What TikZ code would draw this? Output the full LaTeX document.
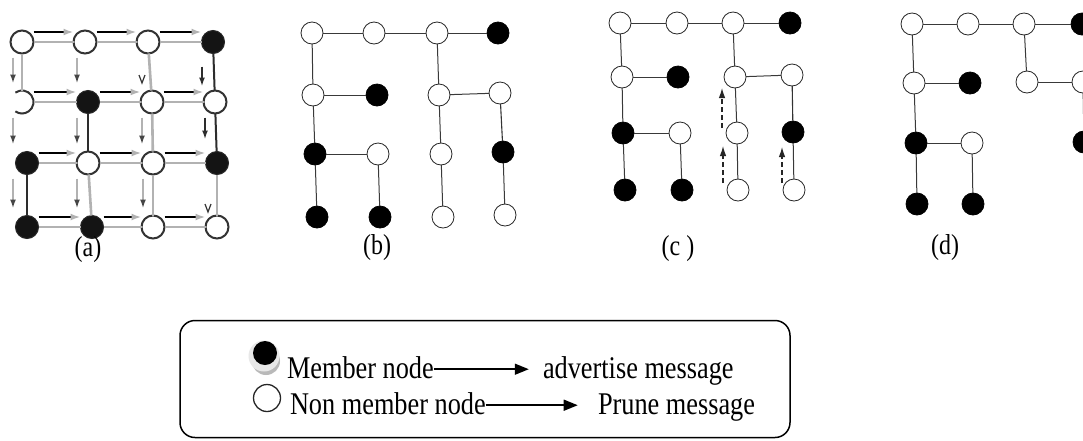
\documentclass[tikz,border=0pt]{standalone}
\usepackage{fontspec}
\setmainfont{Liberation Serif}
\usetikzlibrary{arrows.meta,calc}
\newcommand\lgfont{\fontsize{26.3}{30}\selectfont}
\newcommand\pnfont{\fontsize{24}{28}\selectfont}
\newcommand\tall[1]{\scalebox{1}[1.2]{#1}}
\begin{document}
\begin{tikzpicture}[x=1pt,y=-1pt,
  every node/.style={inner sep=0pt, outer sep=0pt},
  % panel (a): mesh with advertise messages
  memA/.style={circle, minimum size=23pt, fill=black!92, draw=black!85, line width=1pt},
  nonA/.style={circle, minimum size=23pt, fill=white, draw=gray!40!black, line width=2pt},
  openA/.style={circle, minimum size=23pt, fill=white},
  meshedge/.style={gray!60, line width=2.6pt},
  meshdark/.style={gray!35!black, line width=2pt},
  msgright/.style={black, line width=2.6pt, -{Latex[length=10pt,width=7pt,color=gray!60]}},
  msgdown/.style={gray!60, line width=1.8pt, -{Latex[length=9pt,width=6pt,color=gray!55!black]}},
  msgdowndark/.style={gray!35!black, line width=2pt, -{Latex[length=9pt,width=6pt]}},
  vtip/.style={gray!40!black, line width=1.2pt},
  % panels (b)-(d): trees
  memB/.style={circle, minimum size=22pt, fill=black, draw=black, line width=0.8pt},
  nonB/.style={circle, minimum size=22pt, fill=white, draw=black!85, line width=0.8pt},
  treeedge/.style={gray!45!black, line width=1pt},
  treedark/.style={black!80, line width=1.1pt},
  prune/.style={black!85, line width=1.2pt, dash pattern=on 5pt off 3pt, -{Latex[length=10pt,width=6.5pt]}},
  % legend
  legarrow/.style={black, line width=1.5pt, -{Triangle[length=14pt,width=11pt]}},
  paneltag/.style={font=\pnfont, anchor=base},
  legtext/.style={font=\lgfont, anchor=base west}
]
\useasboundingbox (0,0) rectangle (1083,440);
\clip (0,0) rectangle (1083,440);
\fill[white] (0,0) rectangle (1083,440);

% ---------- (a) ----------
\foreach \n/\x/\y/\s in {00/22/42/nonA, 01/85/42/nonA, 02/148/42/nonA, 03/213/42/memA,
  10/22/102/openA, 11/88/102/memA, 12/152/102/nonA, 13/215/102/nonA,
  20/27/163/memA, 21/88/163/nonA, 22/153/163/nonA, 23/217/163/memA,
  30/27/227/memA, 31/92/227/memA, 32/153/227/nonA, 33/217/227/nonA}
  \node[\s] (a\n) at (\x,\y) {};
\draw[gray!40!black, line width=2pt] ($(a10)+(-125:11.5)$) arc[start angle=-125, end angle=125, radius=11.5];
\foreach \p/\q in {00/01,01/02,02/03,10/11,11/12,12/13,20/21,21/22,22/23,30/31,31/32,32/33,
  00/10,02/12,12/22,21/31,22/32,23/33}
  \draw[meshedge] (a\p) -- (a\q);
\foreach \p/\q in {03/13,13/23,20/30,11/21}
  \draw[meshdark] (a\p) -- (a\q);
\foreach \p/\q in {00/01,01/02,02/03,10/11,11/12,12/13,20/21,21/22,22/23,30/31,31/32,32/33}
  \draw[msgright] ([yshift=10pt]a\p.east) -- ([yshift=10pt]a\q.west);
% downward advertise messages, each kept vertical
\foreach \p/\q/\dx in {00/10/-9,01/11/-8,10/20/-9,11/21/-11,12/22/-10,20/30/-14,21/31/-11,22/32/-10}
  \draw[msgdown, shorten <=4pt, shorten >=7pt] ([xshift=\dx pt]a\p.south) -- ([xshift=\dx pt]a\p.south |- a\q.north);
\draw[msgdowndark, shorten <=13pt, shorten >=4pt] ([xshift=-11pt]a03.south) -- ([xshift=-11pt]a03.south |- a13.north);
\draw[msgdowndark, shorten <=4pt, shorten >=12pt] ([xshift=-10pt]a13.south) -- ([xshift=-10pt]a13.south |- a23.north);
\coordinate (v1) at ([xshift=-10pt,yshift=7.5pt]a12.north);
\coordinate (v2) at ([xshift=-9pt,yshift=3.5pt]a33.north);
\draw[vtip] ($(v1)+(-3,-8)$) -- (v1) -- ($(v1)+(3,-8)$);
\draw[vtip] ($(v2)+(-3,-8)$) -- (v2) -- ($(v2)+(3,-8)$);
\node[paneltag] (la) at (88,256) {\tall{(a)}};

% ---------- (b) ----------
\foreach \n/\x/\y/\s in {00/312/33/nonB, 01/374/33/nonB, 02/437/33/nonB, 03/498/33/memB,
  10/313/95/nonB, 11/377/95/memB, 12/439/95/nonB, 13/500/93/nonB,
  20/315/154/memB, 21/378/154/nonB, 22/441/154/nonB, 23/503/152/memB,
  30/317/217/memB, 31/380/217/memB, 32/443/217/nonB, 33/505/215/nonB}
  \node[\s] (b\n) at (\x,\y) {};
\foreach \p/\q in {00/01,01/02,02/03,00/10,02/12,10/11,12/13,10/20,12/22,20/21,20/30,21/31,22/32,23/33}
  \draw[treeedge] (b\p) -- (b\q);
\draw[treedark] (b13) -- (b23);
\node[paneltag] (lb) at (377,254) {\tall{(b)}};

% ---------- (c) ----------
\foreach \n/\x/\y/\s in {00/620/23/nonB, 01/677/23/nonB, 02/733/23/nonB, 03/790/23/memB,
  10/622/77/nonB, 11/678/77/memB, 12/735/77/nonB, 13/792/75/nonB,
  20/623/133/memB, 21/680/133/nonB, 22/737/133/nonB, 23/793/132/memB,
  30/625/190/memB, 31/682/190/memB, 32/738/190/nonB, 33/794/190/nonB}
  \node[\s] (c\n) at (\x,\y) {};
\foreach \p/\q in {00/01,01/02,02/03,00/10,02/12,10/11,12/13,10/20,12/22,20/21,20/30,21/31,22/32,23/33}
  \draw[treeedge] (c\p) -- (c\q);
\draw[treedark] (c13) -- (c23);
\draw[prune] ([xshift=-15pt,yshift=5pt]c22.center) -- ([xshift=-13pt,yshift=-11pt]c12.center);
\draw[prune] ([xshift=-15pt,yshift=7pt]c32.center) -- ([xshift=-14pt,yshift=-13pt]c22.center);
\draw[prune] ([xshift=-12pt,yshift=7pt]c33.center) -- ([xshift=-11pt,yshift=-15pt]c23.center);
\node[paneltag] (lc) at (678,255) {\tall{(c )}};

% ---------- (d) ----------
\foreach \n/\x/\y/\s in {00/912/24/nonB, 01/968/24/nonB, 02/1024/24/nonB, 03/1082/24/memB,
  10/914/83/nonB, 11/970/83/memB, 12/1027/82/nonB, 13/1083/82/nonB,
  20/916/143/memB, 21/972/143/nonB, 23/1084/142/memB,
  30/917/204/memB, 31/973/204/memB}
  \node[\s] (d\n) at (\x,\y) {};
\foreach \p/\q in {00/01,01/02,02/03,00/10,02/12,10/11,12/13,10/20,20/21,20/30,21/31}
  \draw[treeedge] (d\p) -- (d\q);
\draw[treedark] (d13) -- (d23);
\node[paneltag] (ld) at (945,254) {\tall{(d)}};

% ---------- legend ----------
\node[draw, line width=1.5pt, rounded corners=15pt, minimum width=610pt, minimum height=117pt] (legend) at (485,379) {};
\fill[gray!55] (266,361) circle[radius=14];
\fill[gray!18] (264,356) circle[radius=15.5];
\node[circle, fill=black, minimum size=24pt] (legmem) at (265,353) {};
\node[circle, draw=black!85, line width=1.3pt, minimum size=27pt] (legnon) at (267,398) {};
\node[legtext] (t1) at (287,378) {\tall{Member node}};
\node[legtext] (t2) at (543,378) {\tall{advertise message}};
\node[legtext] (t3) at (290,414) {\tall{Non member node}};
\node[legtext] (t4) at (598,414) {\tall{Prune message}};
\draw[legarrow] ([yshift=-2pt]t1.east) -- ++(95,0);
\draw[legarrow] ([yshift=-2pt]t3.east) -- ++(92,0);
\end{tikzpicture}
\end{document}
